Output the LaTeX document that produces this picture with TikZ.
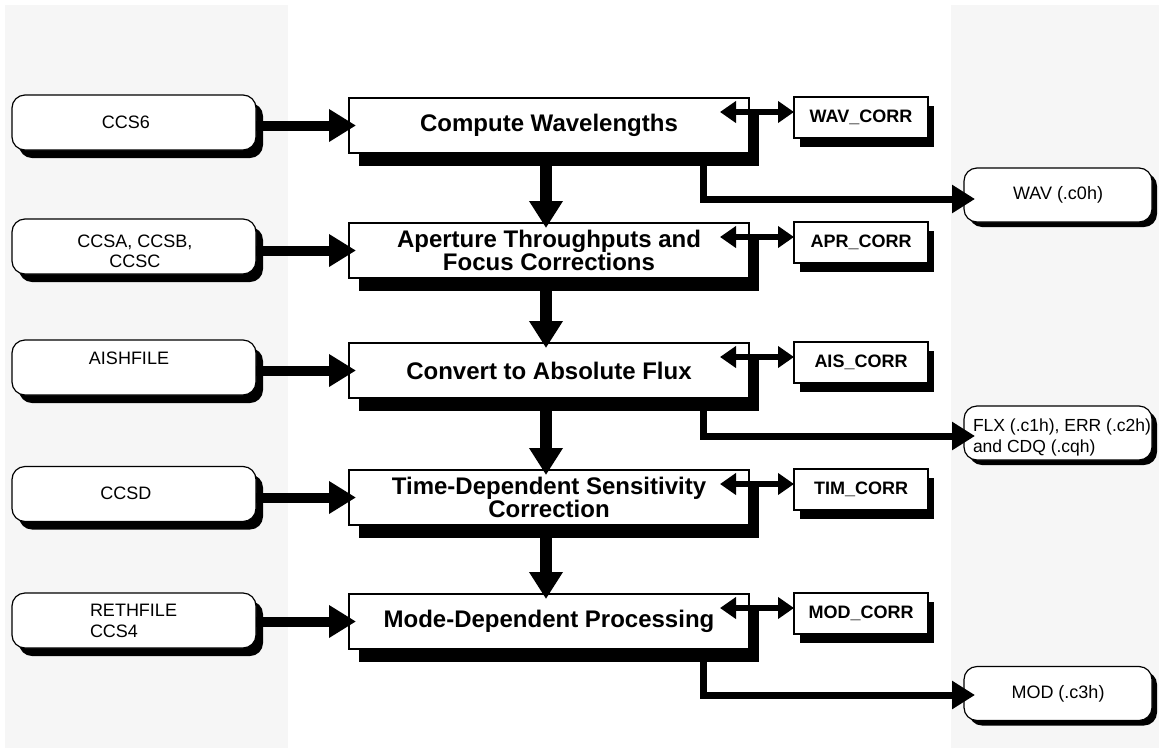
\documentclass[tikz,border=0pt]{standalone}
\usepackage{fontspec}
\setmainfont{Liberation Sans}
\usetikzlibrary{arrows.meta,shadows}
\definecolor{panelgray}{RGB}{246,246,246}
\begin{document}
\begin{tikzpicture}[x=1pt,y=-1pt,
  every node/.style={inner sep=0pt, outer sep=0pt},
  procbox/.style={draw=black, line width=1.2pt, fill=white, minimum width=400pt, minimum height=55pt,
    align=center, font=\fontsize{24}{22.5}\selectfont\bfseries,
    drop shadow={shadow xshift=10pt, shadow yshift=-13pt, fill=black, opacity=1}},
  corrbox/.style={draw=black, line width=1.2pt, fill=white, minimum width=134pt, minimum height=41pt,
    font=\fontsize{18}{20}\selectfont\bfseries,
    drop shadow={shadow xshift=6pt, shadow yshift=-9pt, fill=black, opacity=1}},
  inbox/.style={draw=black, line width=1.2pt, fill=white, rounded corners=13pt, minimum width=244pt, minimum height=55pt,
    drop shadow={shadow xshift=7pt, shadow yshift=-8pt, fill=black, opacity=1}},
  outbox/.style={draw=black, line width=1.2pt, fill=white, rounded corners=13pt, minimum width=188pt, minimum height=54pt,
    font=\fontsize{18}{21}\selectfont,
    drop shadow={shadow xshift=5pt, shadow yshift=-5pt, fill=black, opacity=1}},
  plaintext/.style={font=\fontsize{18}{20}\selectfont, align=center},
  inarrow/.style={line width=10pt, -{Triangle[width=31pt,length=27pt]}, shorten >=-7pt},
  downarrow/.style={line width=11.5pt, -{Triangle[width=32pt,length=27pt]}, shorten >=-5pt},
  outarrow/.style={line width=7pt, -{Triangle[width=27pt,length=23pt]}},
  dblarrow/.style={line width=6pt, {Triangle[width=21pt,length=16pt]}-{Triangle[width=21pt,length=16pt]}},
]
\useasboundingbox (0,0) rectangle (1159,753);
\fill[panelgray] (5,5) rectangle (288,748);
\fill[panelgray] (951,5) rectangle (1159,748);

% main process boxes
\node[procbox] (cw) at (549,125.5) {Compute Wavelengths};
\node[procbox] (ap) at (549,250.5) {Aperture Throughputs and\\Focus Corrections};
\node[procbox] (cf) at (549,370.5) {Convert to Absolute Flux};
\node[procbox] (td) at (549,497.5) {Time-Dependent Sensitivity\\Correction};
\node[procbox] (md) at (549,621.5) {Mode-Dependent Processing};

% correction boxes
\node[corrbox] (wc) at (861,117.5) {WAV\_CORR};
\node[corrbox] (ac) at (861,242.5) {APR\_CORR};
\node[corrbox] (sc) at (861,362.5) {AIS\_CORR};
\node[corrbox] (tc) at (861,489.5) {TIM\_CORR};
\node[corrbox] (mc) at (861,613.5) {MOD\_CORR};

% input boxes
\node[inbox] (i1) at (134,122.5) {};
\node[inbox] (i2) at (134,246.5) {};
\node[inbox] (i3) at (134,367.5) {};
\node[inbox] (i4) at (134,494) {};
\node[inbox] (i5) at (134,620.5) {};
\node[plaintext] (i1t) at (126,122) {CCS6};
\node[plaintext] (i2t) at (135,251) {CCSA, CCSB,\\CCSC};
\node[plaintext] (i3t) at (129,358) {AISHFILE};
\node[plaintext] (i4t) at (126,493) {CCSD};
\node[plaintext, font=\fontsize{18}{21}\selectfont, align=left, anchor=west] (i5t) at (90,621) {RETHFILE\\CCS4};

% output boxes
\node[outbox] (wav) at (1058,195) {WAV (.c0h)};
\node[outbox] (flx) at (1058,433) {};
\node[plaintext, font=\fontsize{17.5}{21}\selectfont, align=left, anchor=west] (flxt) at (973,437) {FLX (.c1h), ERR (.c2h),\\and CDQ (.cqh)};
\node[outbox] (mod) at (1058,693.5) {MOD (.c3h)};

% input arrows
\draw[inarrow] (i1.east |- cw.west) -- (cw.west);
\draw[inarrow] (i2.east |- ap.west) -- (ap.west);
\draw[inarrow] (i3.east |- cf.west) -- (cf.west);
\draw[inarrow] (i4.east |- td.west) -- (td.west);
\draw[inarrow] (i5.east |- md.west) -- (md.west);

% flow arrows
\draw[downarrow] ([xshift=-3pt]cw.south) -- ([xshift=-3pt]ap.north);
\draw[downarrow] ([xshift=-3pt]ap.south) -- ([xshift=-3pt]cf.north);
\draw[downarrow] ([xshift=-3pt]cf.south) -- ([xshift=-3pt]td.north);
\draw[downarrow] ([xshift=-3pt]td.south) -- ([xshift=-3pt]md.north);

% output arrows
\draw[outarrow] ([xshift=154pt]cw.south) |- ([xshift=11pt,yshift=-4pt]wav.west);
\draw[outarrow] ([xshift=154pt]cf.south) |- ([xshift=11pt,yshift=-3pt]flx.west);
\draw[outarrow] ([xshift=154pt]md.south) |- ([xshift=11pt,yshift=-1.5pt]mod.west);

% correction double arrows
\coordinate (d1) at ([xshift=-29pt,yshift=-14pt]cw.north east);
\coordinate (d2) at ([xshift=-29pt,yshift=-14pt]ap.north east);
\coordinate (d3) at ([xshift=-29pt,yshift=-14pt]cf.north east);
\coordinate (d4) at ([xshift=-29pt,yshift=-14pt]td.north east);
\coordinate (d5) at ([xshift=-29pt,yshift=-14pt]md.north east);
\draw[dblarrow] (d1) -- (d1 -| wc.west);
\draw[dblarrow] (d2) -- (d2 -| ac.west);
\draw[dblarrow] (d3) -- (d3 -| sc.west);
\draw[dblarrow] (d4) -- (d4 -| tc.west);
\draw[dblarrow] (d5) -- (d5 -| mc.west);
\end{tikzpicture}
\end{document}
